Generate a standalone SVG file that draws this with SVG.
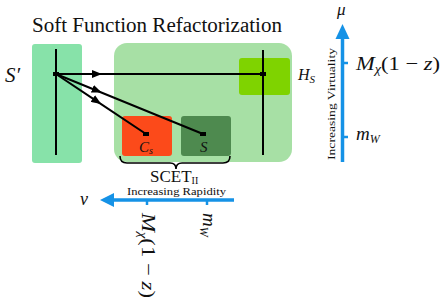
<svg xmlns="http://www.w3.org/2000/svg" width="447" height="305" viewBox="0 0 447 305">
<style>
.serif{font-family:"Liberation Serif","DejaVu Serif",serif;fill:#111}
.it{font-style:italic}
.ln{stroke:#000;stroke-width:2;fill:none}
.ax{stroke:#1592e6;stroke-width:3.5;fill:none}
.tick{stroke:#1592e6;stroke-width:2.5}
.ep{fill:#000}
</style>
<defs>
<marker id="mid" markerWidth="10" markerHeight="8" refX="5" refY="4" orient="auto" markerUnits="userSpaceOnUse">
<path d="M0,0 L10,4 L0,8 Z" fill="#000"/>
</marker>
</defs>
<text class="serif" x="32" y="32" font-size="20" textLength="250" lengthAdjust="spacingAndGlyphs">Soft Function Refactorization</text>
<g id="Sprime">
<rect x="32" y="44" width="50" height="119" rx="3" fill="#87e2a9"/>
<line class="ln" x1="56" y1="49" x2="56" y2="155"/>
<text class="serif it" x="5" y="82" font-size="21">S′</text>
</g>
<g id="SCET">
<rect x="114" y="43" width="178" height="119" rx="13" fill="#a7e0a5"/>
</g>
<g id="HS">
<rect x="239" y="58" width="51" height="37" rx="3" fill="#7fd300"/>
<line class="ln" x1="263" y1="50" x2="263" y2="155"/>
<text class="serif it" x="298" y="80" font-size="16">H<tspan font-size="11" dy="3">S</tspan></text>
</g>
<g id="Cs">
<rect x="122" y="116" width="50" height="40" rx="3" fill="#fc4a1a"/>
<text class="serif it" x="139" y="152" font-size="15">C<tspan font-size="10" dy="2">s</tspan></text>
</g>
<g id="S">
<rect x="181" y="116" width="50" height="40" rx="3" fill="#4e8a4f"/>
<text class="serif it" x="200" y="152" font-size="15">S</text>
</g>
<g id="connectors">
<path class="ln" d="M56,74 L97,74 L263,74" marker-mid="url(#mid)"/>
<path class="ln" d="M56,74 L97,90.7 L203,134" marker-mid="url(#mid)"/>
<path class="ln" d="M56,74 L97,101.3 L146,134" marker-mid="url(#mid)"/>
<rect class="ep" x="53" y="72" width="6" height="4"/>
<rect class="ep" x="260" y="72" width="6" height="4"/>
<rect class="ep" x="143" y="132" width="6" height="4"/>
<rect class="ep" x="200" y="132" width="6" height="4"/>
</g>
<g id="brace">
<path d="M120,156 Q120,163 127,163 L170,163 Q176,163 176,169 Q176,163 182,163 L223,163 Q230,163 230,156" stroke="#000" stroke-width="1.6" fill="none"/>
<text class="serif" x="150" y="182" font-size="17">SCET<tspan font-size="10" dy="2">II</tspan></text>
<text class="serif" x="127" y="195" font-size="11" textLength="99" lengthAdjust="spacingAndGlyphs">Increasing Rapidity</text>
</g>
<g id="nu-axis">
<line class="ax" x1="234" y1="200" x2="110" y2="200"/>
<path d="M100,200 L114,193 L114,207 Z" fill="#1592e6"/>
<line class="tick" x1="147" y1="200" x2="147" y2="205"/>
<line class="tick" x1="207" y1="200" x2="207" y2="205"/>
<text class="serif it" x="80" y="205" font-size="18">ν</text>
<text class="serif it" transform="translate(142,213) rotate(90)" font-size="19" textLength="85" lengthAdjust="spacingAndGlyphs">M<tspan font-size="12" dy="3">χ</tspan><tspan dy="-3" font-style="normal">(1 − </tspan>z<tspan font-style="normal">)</tspan></text>
<text class="serif it" transform="translate(203,213) rotate(90)" font-size="19">m<tspan font-size="12" dy="3">W</tspan></text>
</g>
<g id="mu-axis">
<line class="ax" x1="342.5" y1="162" x2="342.5" y2="34"/>
<path d="M342.5,24 L335.5,39 L349.5,39 Z" fill="#1592e6"/>
<line class="tick" x1="342" y1="63" x2="348" y2="63"/>
<line class="tick" x1="342" y1="137" x2="348" y2="137"/>
<text class="serif it" x="337" y="15" font-size="17">μ</text>
<text class="serif it" x="356" y="70" font-size="19" textLength="84" lengthAdjust="spacingAndGlyphs">M<tspan font-size="12" dy="3">χ</tspan><tspan dy="-3" font-style="normal">(1 − </tspan>z<tspan font-style="normal">)</tspan></text>
<text class="serif it" x="356" y="140" font-size="19">m<tspan font-size="12" dy="3">W</tspan></text>
<text class="serif" transform="translate(335,160) rotate(-90)" font-size="11" textLength="112" lengthAdjust="spacingAndGlyphs">Increasing Virtuality</text>
</g>
</svg>
